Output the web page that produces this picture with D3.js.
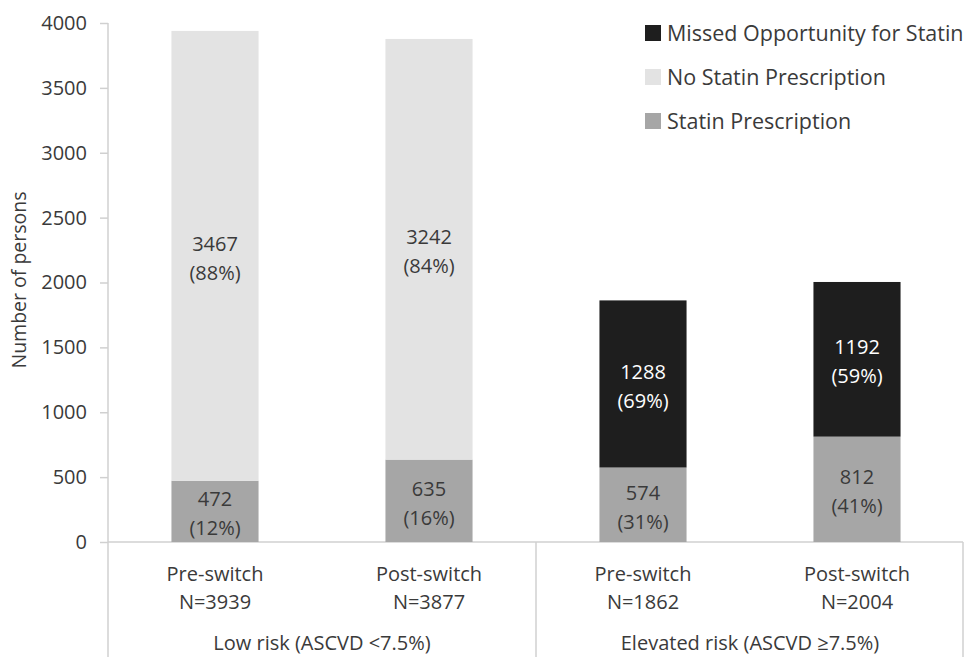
<!DOCTYPE html>
<html>
<head>
<meta charset="utf-8">
<script src="https://cdn.jsdelivr.net/npm/d3@7"></script>
<style>
  html, body { margin: 0; padding: 0; background: #fff; }
  svg text { font-family: "Open Sans", "Noto Sans", sans-serif; fill: #3a3a3a; }
</style>
</head>
<body>
<svg id="chart" width="966" height="657"></svg>
<script>
const groups = ["Low risk (ASCVD <7.5%)", "Elevated risk (ASCVD \u22657.5%)"];
const periods = ["Pre-switch", "Post-switch", "Pre-switch", "Post-switch"];
const totals = [3939, 3877, 1862, 2004];
const groupOf = [0, 0, 1, 1];
const statin = [472, 635, 574, 812];
const statinPct = ["12%", "16%", "31%", "41%"];
const noStatin = [3467, 3242, 0, 0];
const noStatinPct = ["88%", "84%", "", ""];
const missed = [0, 0, 1288, 1192];
const missedPct = ["", "", "69%", "59%"];
const yTicks = [0, 500, 1000, 1500, 2000, 2500, 3000, 3500, 4000];
const seriesNames = ["Statin Prescription", "No Statin Prescription", "Missed Opportunity for Statin"];
const seriesColors = ["#a6a6a6", "#e3e3e3", "#1e1e1e"];
const labelColors = ["#3a3a3a", "#3a3a3a", "#ffffff"];

const svg = d3.select("#chart");
const pL = 108, pR = 964, pT = 23, pB = 542;

const x = d3.scaleBand().domain(d3.range(4)).range([pL, pR]).paddingInner(0.593).paddingOuter(0.2965);
const y = d3.scaleLinear().domain([0, 4000]).range([pB, pT]);

const rows = d3.range(4).map(i => ({ i, statin: statin[i], noStatin: noStatin[i], missed: missed[i] }));
const stack = d3.stack().keys(["statin", "noStatin", "missed"]);
const stacked = stack(rows);
const pcts = [statinPct, noStatinPct, missedPct];
const vals = [statin, noStatin, missed];

// y axis
const yAxis = d3.axisLeft(y).tickValues(yTicks).tickSize(8).tickPadding(13).tickFormat(d3.format("d"));
const yg = svg.append("g").attr("transform", `translate(${pL},0)`).call(yAxis);
yg.select(".domain").attr("stroke", "#d0d0d0").attr("stroke-width", 1.5).attr("d", `M0,${pT}V657`);
yg.selectAll(".tick line").attr("stroke", "#d0d0d0").attr("stroke-width", 1.5);
yg.selectAll(".tick text").style("font-size", "20px").attr("fill", "#3a3a3a")
  .style("font-family", "'Open Sans', sans-serif");

// bottom box
svg.append("line").attr("x1", pL).attr("x2", pR - 1).attr("y1", pB).attr("y2", pB)
  .attr("stroke", "#d0d0d0").attr("stroke-width", 1.5);
svg.append("line").attr("x1", pR - 1).attr("x2", pR - 1).attr("y1", pB).attr("y2", 657)
  .attr("stroke", "#d0d0d0").attr("stroke-width", 1.5);
const sepX = (x(1) + x.bandwidth() + x(2)) / 2;
svg.append("line").attr("x1", sepX).attr("x2", sepX).attr("y1", pB).attr("y2", 657)
  .attr("stroke", "#d0d0d0").attr("stroke-width", 1.5);

// bars
stacked.forEach((layer, k) => {
  svg.append("g").selectAll("rect").data(layer.filter(d => d[1] - d[0] > 0)).join("rect")
    .attr("x", d => x(d.data.i))
    .attr("width", x.bandwidth())
    .attr("y", d => y(d[1]))
    .attr("height", d => y(d[0]) - y(d[1]))
    .attr("fill", seriesColors[k]);
  const lbl = svg.append("g").selectAll("text").data(layer.filter(d => d[1] - d[0] > 0)).join("text")
    .attr("text-anchor", "middle")
    .attr("x", d => x(d.data.i) + x.bandwidth() / 2)
    .attr("y", d => (y(d[0]) + y(d[1])) / 2)
    .style("font-size", "20px")
    .attr("fill", labelColors[k]).style("fill", labelColors[k]);
  lbl.append("tspan").attr("x", d => x(d.data.i) + x.bandwidth() / 2).attr("dy", "-5")
    .text(d => vals[k][d.data.i]);
  lbl.append("tspan").attr("x", d => x(d.data.i) + x.bandwidth() / 2).attr("dy", "29")
    .text(d => "(" + pcts[k][d.data.i] + ")");
});

// category labels
const cat = svg.append("g").selectAll("text").data(d3.range(4)).join("text")
  .attr("text-anchor", "middle").style("font-size", "20px");
cat.append("tspan").attr("x", i => x(i) + x.bandwidth() / 2).attr("y", 581).text(i => periods[i]);
cat.append("tspan").attr("x", i => x(i) + x.bandwidth() / 2).attr("y", 609).text(i => "N=" + totals[i]);

// group labels
svg.append("g").selectAll("text").data(groups).join("text")
  .attr("text-anchor", "middle").style("font-size", "20px")
  .attr("x", (g, gi) => {
    const a = gi === 0 ? pL : sepX, b = gi === 0 ? sepX : pR;
    return (a + b) / 2;
  })
  .attr("y", 650).text(d => d);

// y title
svg.append("text").attr("transform", `translate(26,280) rotate(-90)`)
  .attr("text-anchor", "middle").style("font-size", "19.5px").text("Number of persons");

// legend
const legendOrder = [2, 1, 0];
const lg = svg.append("g").selectAll("g").data(legendOrder).join("g")
  .attr("transform", (k, j) => `translate(645,${33 + j * 44})`);
lg.append("rect").attr("x", 0).attr("y", -8).attr("width", 16).attr("height", 16).attr("fill", k => seriesColors[k]);
lg.append("text").attr("x", 22).attr("y", 0).attr("dy", "0.35em").style("font-size", "21.5px").text(k => seriesNames[k]);
</script>
</body>
</html>
